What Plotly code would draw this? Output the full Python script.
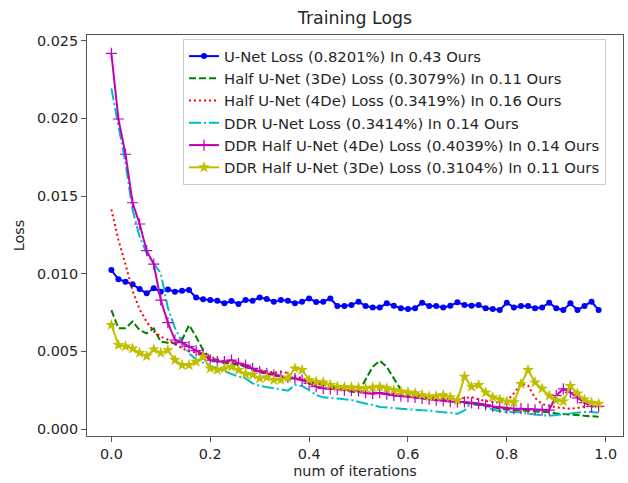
import plotly.graph_objects as go

# x axis: fraction of training iterations (70 logged steps)
iterations = [round(i / 70, 4) for i in range(70)]

unet = [0.01024, 0.00964, 0.00949, 0.00932, 0.00901, 0.00874, 0.00906, 0.00884, 0.00899, 0.00884,
        0.00890, 0.00895, 0.00846, 0.00835, 0.00831, 0.00826, 0.00809, 0.00824, 0.00805, 0.00831,
        0.00826, 0.00846, 0.00837, 0.00820, 0.00831, 0.00826, 0.00809, 0.00820, 0.00840, 0.00818,
        0.00820, 0.00840, 0.00792, 0.00792, 0.00798, 0.00820, 0.00792, 0.00783, 0.00783, 0.00809,
        0.00794, 0.00777, 0.00773, 0.00777, 0.00813, 0.00792, 0.00792, 0.00783, 0.00794, 0.00816,
        0.00798, 0.00794, 0.00798, 0.00777, 0.00773, 0.00766, 0.00813, 0.00783, 0.00792, 0.00792,
        0.00777, 0.00783, 0.00813, 0.00777, 0.00766, 0.00809, 0.00766, 0.00792, 0.00820, 0.00766]

half_3de = [0.00766, 0.00648, 0.00648, 0.00692, 0.00637, 0.00616, 0.00648, 0.00562, 0.00556, 0.00551,
            0.00573, 0.00669, 0.00594, 0.00508, 0.00455, 0.00444, 0.00423, 0.00423, 0.00412, 0.00401,
            0.00380, 0.00370, 0.00370, 0.00358, 0.00337, 0.00326, 0.00326, 0.00316, 0.00305, 0.00295,
            0.00284, 0.00273, 0.00262, 0.00250, 0.00240, 0.00235, 0.00315, 0.00401, 0.00440, 0.00400,
            0.00326, 0.00251, 0.00229, 0.00225, 0.00215, 0.00200, 0.00190, 0.00187, 0.00180, 0.00172,
            0.00165, 0.00160, 0.00155, 0.00150, 0.00140, 0.00130, 0.00125, 0.00122, 0.00122, 0.00120,
            0.00115, 0.00112, 0.00108, 0.00100, 0.00098, 0.00095, 0.00090, 0.00085, 0.00082, 0.00079]

half_4de = [0.01414, 0.01217, 0.01060, 0.00890, 0.00770, 0.00690, 0.00630, 0.00594, 0.00575, 0.00545,
            0.00520, 0.00500, 0.00495, 0.00487, 0.00465, 0.00449, 0.00434, 0.00427, 0.00419, 0.00406,
            0.00390, 0.00380, 0.00370, 0.00362, 0.00370, 0.00360, 0.00341, 0.00326, 0.00316, 0.00300,
            0.00284, 0.00278, 0.00268, 0.00258, 0.00247, 0.00240, 0.00238, 0.00235, 0.00232, 0.00230,
            0.00228, 0.00225, 0.00220, 0.00215, 0.00210, 0.00205, 0.00200, 0.00198, 0.00195, 0.00195,
            0.00200, 0.00206, 0.00190, 0.00180, 0.00175, 0.00170, 0.00180, 0.00230, 0.00290, 0.00280,
            0.00200, 0.00160, 0.00150, 0.00140, 0.00135, 0.00130, 0.00135, 0.00145, 0.00150, 0.00155]

ddr_unet = [0.02193, 0.01947, 0.01711, 0.01410, 0.01238, 0.01131, 0.01070, 0.01002, 0.00780, 0.00650,
            0.00562, 0.00487, 0.00449, 0.00427, 0.00406, 0.00390, 0.00373, 0.00358, 0.00337, 0.00326,
            0.00294, 0.00277, 0.00268, 0.00262, 0.00255, 0.00247, 0.00283, 0.00277, 0.00250, 0.00219,
            0.00204, 0.00198, 0.00196, 0.00191, 0.00187, 0.00174, 0.00165, 0.00155, 0.00142, 0.00138,
            0.00133, 0.00128, 0.00124, 0.00121, 0.00120, 0.00118, 0.00111, 0.00108, 0.00104, 0.00098,
            0.00120, 0.00170, 0.00165, 0.00140, 0.00125, 0.00115, 0.00110, 0.00110, 0.00108, 0.00100,
            0.00092, 0.00088, 0.00085, 0.00090, 0.00098, 0.00104, 0.00105, 0.00110, 0.00110, 0.00105]

ddr_half_4de = [0.02419, 0.01996, 0.01769, 0.01457, 0.01320, 0.01148, 0.01062, 0.00830, 0.00685, 0.00573,
                0.00556, 0.00530, 0.00505, 0.00481, 0.00444, 0.00434, 0.00434, 0.00444, 0.00423, 0.00412,
                0.00390, 0.00370, 0.00358, 0.00348, 0.00337, 0.00332, 0.00326, 0.00316, 0.00294, 0.00273,
                0.00262, 0.00258, 0.00255, 0.00250, 0.00248, 0.00245, 0.00232, 0.00227, 0.00234, 0.00225,
                0.00216, 0.00212, 0.00208, 0.00204, 0.00197, 0.00192, 0.00186, 0.00182, 0.00176, 0.00174,
                0.00174, 0.00168, 0.00163, 0.00155, 0.00145, 0.00140, 0.00134, 0.00131, 0.00131, 0.00128,
                0.00124, 0.00122, 0.00122, 0.00215, 0.00259, 0.00235, 0.00200, 0.00170, 0.00145, 0.00146]

ddr_half_3de = [0.00670, 0.00541, 0.00532, 0.00518, 0.00490, 0.00470, 0.00513, 0.00490, 0.00508, 0.00444,
                0.00412, 0.00412, 0.00433, 0.00465, 0.00390, 0.00380, 0.00390, 0.00400, 0.00380, 0.00354,
                0.00348, 0.00326, 0.00333, 0.00316, 0.00316, 0.00330, 0.00390, 0.00380, 0.00316, 0.00305,
                0.00300, 0.00284, 0.00273, 0.00270, 0.00268, 0.00265, 0.00262, 0.00268, 0.00272, 0.00262,
                0.00250, 0.00242, 0.00236, 0.00230, 0.00220, 0.00208, 0.00212, 0.00217, 0.00205, 0.00185,
                0.00337, 0.00272, 0.00283, 0.00235, 0.00205, 0.00190, 0.00178, 0.00172, 0.00290, 0.00380,
                0.00300, 0.00260, 0.00215, 0.00185, 0.00178, 0.00277, 0.00229, 0.00190, 0.00170, 0.00163]

names = [
    "U-Net Loss (0.8201%) In 0.43 Ours",
    "Half U-Net (3De) Loss (0.3079%) In 0.11 Ours",
    "Half U-Net (4De) Loss (0.3419%) In 0.16 Ours",
    "DDR U-Net Loss (0.3414%) In 0.14 Ours",
    "DDR Half U-Net (4De) Loss (0.4039%) In 0.14 Ours",
    "DDR Half U-Net (3De) Loss (0.3104%) In 0.11 Ours",
]
series = [unet, half_3de, half_4de, ddr_unet, ddr_half_4de, ddr_half_3de]

styles = [
    dict(mode="lines+markers", line=dict(color="#0000ff", width=2),
         marker=dict(symbol="circle", size=6, color="#0000ff")),
    dict(mode="lines", line=dict(color="#008000", width=2, dash="7px,3px")),
    dict(mode="lines", line=dict(color="#ff0000", width=2, dash="2px,3px")),
    dict(mode="lines", line=dict(color="#00bfbf", width=2, dash="12px,3px,2px,3px")),
    dict(mode="lines+markers", line=dict(color="#bf00bf", width=2),
         marker=dict(symbol="cross-thin", size=8, color="#bf00bf",
                     line=dict(color="#bf00bf", width=1.2))),
    dict(mode="lines+markers", line=dict(color="#bfbf00", width=2),
         marker=dict(symbol="star", size=9, color="#bfbf00", line=dict(width=0))),
]

fig = go.Figure()
for nm, ys, st in zip(names, series, styles):
    fig.add_trace(go.Scatter(x=iterations, y=ys, name=nm, **st))

axis_color = "#555555"
text_color = "#262626"
font = "DejaVu Sans"
tick_size = 14.4

fig.update_layout(
    width=628, height=483,
    margin=dict(l=87, r=5, t=35, b=47, autoexpand=False),
    paper_bgcolor="white", plot_bgcolor="white",
    font=dict(family=font, size=tick_size, color=text_color),
    title=dict(text="Training Logs", x=0.5, xref="paper", xanchor="center",
               y=1 - 18 / 483, yref="container", yanchor="middle",
               font=dict(family=font, size=17.4, color=text_color)),
    showlegend=True,
    legend=dict(x=(183 - 87) / 536, xanchor="left", y=1 - (39 - 35) / 401, yanchor="top",
                bgcolor="rgba(255,255,255,0.8)", bordercolor="#cccccc", borderwidth=1,
                font=dict(family=font, size=14.8, color=text_color),
                itemwidth=30),
    xaxis=dict(range=[-0.0493, 1.035], tickmode="array",
               tickvals=[0.0, 0.2, 0.4, 0.6, 0.8, 1.0],
               ticktext=["0.0", "0.2", "0.4", "0.6", "0.8", "1.0"],
               ticks="outside", ticklen=5, tickcolor=axis_color, tickwidth=1,
               showline=True, linecolor=axis_color, linewidth=1, mirror=True,
               showgrid=False, zeroline=False, automargin=False,
               title=dict(text="num of iterations", standoff=4,
                          font=dict(family=font, size=tick_size, color=text_color))),
    yaxis=dict(range=[-0.00045, 0.02537], tickmode="array",
               tickvals=[0.0, 0.005, 0.01, 0.015, 0.02, 0.025],
               ticktext=["0.000", "0.005", "0.010", "0.015", "0.020", "0.025"],
               ticks="outside", ticklen=5, tickcolor=axis_color, tickwidth=1,
               showline=True, linecolor=axis_color, linewidth=1, mirror=True,
               showgrid=False, zeroline=False, automargin=False,
               title=dict(text="Loss", standoff=8,
                          font=dict(family=font, size=tick_size, color=text_color))),
)

fig.write_html("out.html", config={"displayModeBar": False},
               post_script="document.body.style.margin='0px';")
